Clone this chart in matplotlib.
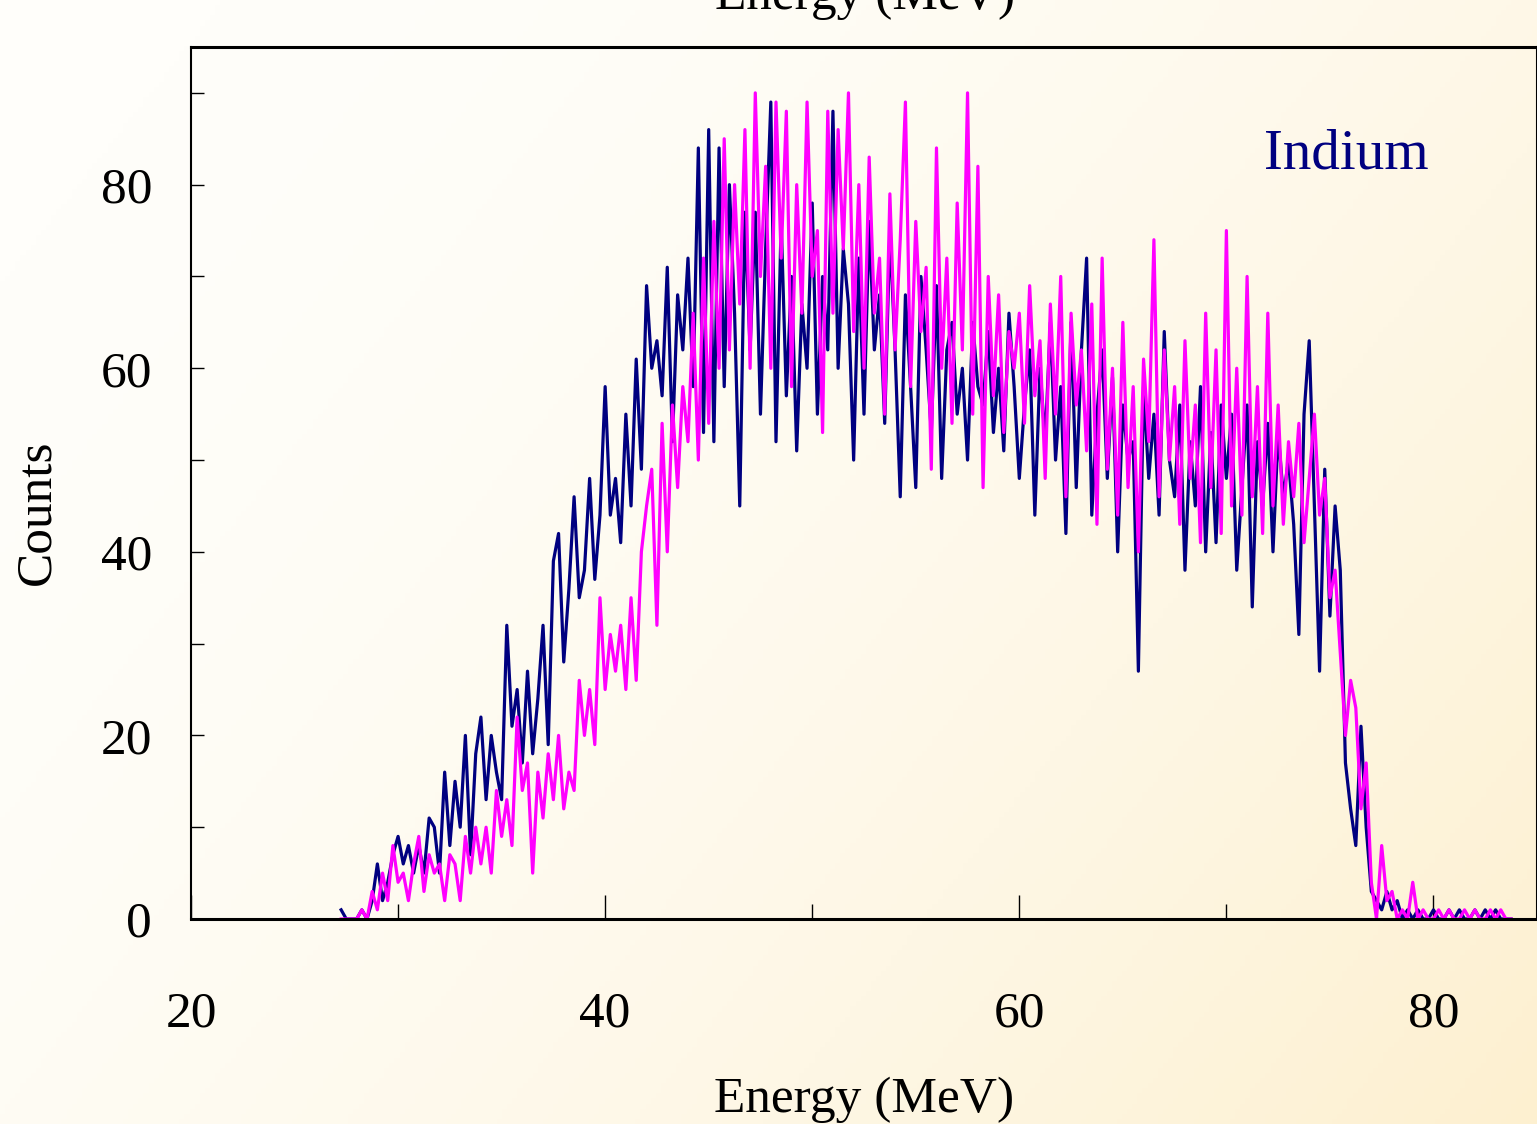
import numpy as np
import matplotlib.pyplot as plt

# Spectra, one value per 0.25 MeV channel from 27.25 MeV
e_start = 27.25
e_step = 0.25

counts_navy = [
    1, 0, 0, 0, 1, 0, 2, 6, 2, 4, 7, 9, 6, 8, 5, 8, 5, 11, 10, 5,
    16, 8, 15, 10, 20, 7, 18, 22, 13, 20, 16, 13, 32, 21, 25, 17, 27, 18, 24, 32,
    19, 39, 42, 28, 36, 46, 35, 38, 48, 37, 44, 58, 44, 48, 41, 55, 45, 61, 49, 69,
    60, 63, 57, 71, 52, 68, 62, 72, 58, 84, 53, 86, 52, 84, 58, 80, 66, 45, 77, 62,
    77, 55, 73, 89, 52, 76, 57, 70, 51, 67, 60, 78, 55, 70, 62, 88, 60, 73, 67, 50,
    72, 55, 76, 62, 68, 54, 75, 62, 46, 68, 58, 47, 70, 62, 53, 69, 48, 62, 65, 55,
    60, 50, 65, 58, 56, 64, 53, 60, 51, 66, 58, 48, 56, 62, 44, 60, 52, 65, 50, 58,
    42, 65, 47, 62, 72, 44, 55, 62, 48, 59, 40, 56, 50, 52, 27, 58, 48, 55, 44, 64,
    50, 46, 56, 38, 52, 45, 58, 40, 53, 41, 56, 48, 55, 38, 47, 56, 34, 52, 45, 54,
    40, 53, 46, 50, 43, 31, 55, 63, 45, 27, 49, 33, 45, 38, 17, 12, 8, 21, 10, 3,
    2, 1, 3, 1, 2, 0, 1, 0, 1, 0, 0, 1, 0, 0, 1, 0, 1, 0, 0, 1,
    0, 1, 0, 1, 0, 0, 0,
]

counts_magenta = [
    0, 0, 0, 0, 1, 0, 3, 1, 5, 2, 8, 4, 5, 2, 6, 9, 3, 7, 5, 6,
    2, 7, 6, 2, 9, 5, 10, 6, 10, 5, 14, 9, 13, 8, 22, 14, 17, 5, 16, 11,
    18, 13, 20, 12, 16, 14, 26, 20, 25, 19, 35, 25, 31, 27, 32, 25, 35, 26, 40, 45,
    49, 32, 54, 40, 56, 47, 58, 52, 66, 50, 72, 54, 76, 60, 85, 62, 80, 67, 86, 60,
    90, 70, 82, 60, 89, 72, 88, 58, 80, 66, 89, 70, 75, 53, 88, 66, 86, 73, 90, 64,
    80, 60, 83, 66, 72, 55, 79, 62, 74, 89, 58, 76, 64, 71, 49, 84, 60, 72, 54, 78,
    62, 90, 55, 82, 47, 70, 57, 68, 53, 64, 60, 66, 54, 69, 57, 63, 48, 67, 55, 70,
    46, 66, 56, 62, 51, 67, 43, 72, 49, 60, 44, 65, 47, 58, 40, 61, 52, 74, 46, 62,
    50, 58, 43, 63, 48, 56, 41, 66, 47, 62, 42, 75, 45, 60, 44, 70, 46, 58, 42, 66,
    45, 56, 43, 52, 46, 54, 41, 48, 55, 44, 48, 35, 38, 29, 20, 26, 23, 12, 17, 4,
    0, 8, 2, 3, 0, 1, 0, 4, 0, 1, 0, 0, 1, 0, 1, 0, 0, 1, 0, 1,
    0, 0, 1, 0, 1, 0, 0,
]

energy_navy = e_start + e_step * np.arange(len(counts_navy))
energy_magenta = e_start + e_step * np.arange(len(counts_magenta))

x_ticks = [20, 40, 60, 80]
y_ticks = [0, 20, 40, 60, 80]

plt.rcParams["font.family"] = ["Liberation Serif", "DejaVu Serif"]

fig = plt.figure(figsize=(15.37, 11.24), dpi=100)

# Cream-to-yellow background gradient behind everything
bg = fig.add_axes([0, 0, 1, 1], zorder=-10)
u, v = np.meshgrid(np.linspace(0, 1, 300), np.linspace(0, 1, 220))
t = np.clip(0.7 * u + 0.4 * v - 0.1, 0, 1) ** 1.6
c0 = np.array([255, 254, 250]) / 255
c1 = np.array([253, 240, 208]) / 255
img = c0[None, None, :] * (1 - t[..., None]) + c1[None, None, :] * t[..., None]
bg.imshow(img, aspect="auto", extent=[0, 1, 0, 1], origin="upper")
bg.set_axis_off()

ax = fig.add_axes([191 / 1537, 1 - 919 / 1124, 1 - 191 / 1537, (919 - 47) / 1124])
ax.set_facecolor("none")

ax.plot(energy_navy, counts_navy, color="#000080", lw=2.3)
ax.plot(energy_magenta, counts_magenta, color="#ff00ff", lw=2.3)

ax.set_xlim(20, 85)
ax.set_ylim(0, 95)
ax.set_xticks(x_ticks)
ax.set_xticks([30, 50, 70], minor=True)
ax.set_yticks(y_ticks)
ax.set_yticks([10, 30, 50, 70, 90], minor=True)
ax.tick_params(axis="x", which="major", direction="in", length=17, width=1,
               pad=52, labelsize=37)
ax.tick_params(axis="x", which="minor", direction="in", length=11, width=1)
ax.tick_params(axis="y", which="major", direction="in", length=9, width=1,
               pad=28, labelsize=37)
ax.tick_params(axis="y", which="minor", direction="in", length=9, width=1)

for side in ["top", "left", "right"]:
    ax.spines[side].set_linewidth(1.5)
ax.spines["bottom"].set_linewidth(2.2)
ax.spines["top"].set_linewidth(2.2)

ax.set_xlabel("Energy (MeV)", fontsize=37, labelpad=28)
ax.set_ylabel("Counts", fontsize=37)
ax.yaxis.set_label_coords(-0.097, 0.467)

ax.text(0.858, 0.861, "Indium", transform=ax.transAxes, fontsize=41,
        color="#000080", ha="center", va="baseline")

# Title cut off by the top edge of the picture
fig.text(865 / 1537, 1 - 9 / 1124, "Energy (MeV)", fontsize=37,
         ha="center", va="baseline")

fig.savefig("out.png", dpi=100)
